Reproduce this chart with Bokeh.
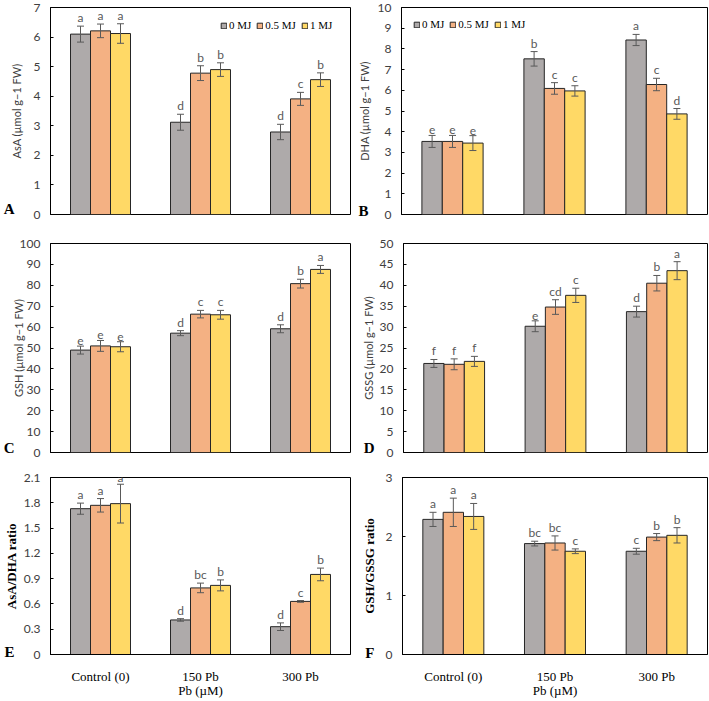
from bokeh.plotting import figure
from bokeh.layouts import column, row
from bokeh.models import (ColumnDataSource, FactorRange, Range1d, FixedTicker, Whisker,
                          TeeHead, Legend, LegendItem, NumeralTickFormatter, LinearAxis,
                          CustomJSTickFormatter)
from bokeh.transform import dodge
from bokeh.embed import file_html
from bokeh.resources import INLINE
from bokeh.core.properties import value

groups = ["Control (0)", "150 Pb", "300 Pb"]
series = ["0 MJ", "0.5 MJ", "1 MJ"]
colors = ["#AEAAAA", "#F4B183", "#FFD966"]
offsets = [-0.2, 0.0, 0.2]

# rows = series (0 MJ, 0.5 MJ, 1 MJ); columns = groups
asa_mean = [[6.10, 3.12, 2.79], [6.21, 4.78, 3.91], [6.12, 4.90, 4.56]]
asa_err = [[0.27, 0.27, 0.26], [0.23, 0.25, 0.22], [0.33, 0.23, 0.23]]
asa_let = [["a", "d", "d"], ["a", "b", "c"], ["a", "b", "b"]]

dha_mean = [[3.53, 7.52, 8.43], [3.53, 6.09, 6.28], [3.45, 5.97, 4.86]]
dha_err = [[0.29, 0.35, 0.27], [0.29, 0.28, 0.30], [0.36, 0.25, 0.26]]
dha_let = [["e", "b", "a"], ["e", "c", "c"], ["e", "c", "d"]]

gsh_mean = [[49.0, 57.1, 59.2], [51.0, 66.2, 80.8], [50.6, 65.9, 87.6]]
gsh_err = [[1.9, 1.2, 1.9], [2.6, 1.8, 2.1], [2.4, 2.1, 1.9]]
gsh_let = [["e", "d", "d"], ["e", "c", "b"], ["e", "c", "a"]]

gssg_mean = [[21.3, 30.2, 33.7], [21.1, 34.8, 40.5], [21.8, 37.6, 43.5]]
gssg_err = [[0.95, 1.3, 1.3], [1.3, 1.75, 1.85], [1.2, 1.7, 2.15]]
gssg_let = [["f", "e", "d"], ["f", "cd", "b"], ["f", "c", "a"]]

ratio1_mean = [[1.73, 0.41, 0.33], [1.77, 0.79, 0.63], [1.79, 0.82, 0.95]]
ratio1_err = [[0.066, 0.015, 0.045], [0.08, 0.057, 0.01], [0.23, 0.065, 0.075]]
ratio1_let = [["a", "d", "d"], ["a", "bc", "c"], ["a", "b", "b"]]

ratio2_mean = [[2.29, 1.88, 1.75], [2.41, 1.89, 1.99], [2.34, 1.75, 2.02]]
ratio2_err = [[0.12, 0.04, 0.05], [0.24, 0.12, 0.06], [0.22, 0.04, 0.13]]
ratio2_let = [["a", "bc", "c"], ["a", "bc", "b"], ["a", "c", "b"]]

ticks_asa = [0, 1, 2, 3, 4, 5, 6, 7]
ticks_dha = [0, 1, 2, 3, 4, 5, 6, 7, 8, 9, 10]
ticks_gsh = [0, 10, 20, 30, 40, 50, 60, 70, 80, 90, 100]
ticks_gssg = [0, 5, 10, 15, 20, 25, 30, 35, 40, 45, 50]
ticks_r1 = [0, 0.3, 0.6, 0.9, 1.2, 1.5, 1.8, 2.1]
ticks_r2 = [0, 1, 2, 3]

SANS = "Lato"
SERIF = "Liberation Serif"
GREY_TXT = "#404040"


def add_letter(p, letter, ymax, frame_h, up_px, standoff):
    # panel letter drawn as the single label of an extra, line-less axis on the left
    t = ymax * up_px / frame_h
    ax = LinearAxis(ticker=FixedTicker(ticks=[t]),
                    formatter=CustomJSTickFormatter(code="return '%s'" % letter))
    ax.axis_line_color = None
    ax.major_tick_line_color = None
    ax.minor_tick_line_color = None
    ax.major_tick_in = 0
    ax.major_tick_out = 0
    ax.minor_tick_in = 0
    ax.minor_tick_out = 0
    ax.major_label_standoff = standoff
    ax.major_label_text_font = SERIF
    ax.major_label_text_font_style = "bold"
    ax.major_label_text_font_size = "15px"
    ax.major_label_text_color = "#000000"
    p.add_layout(ax, "left")


def make_panel(mean, err, lets, ylabel, yticks, letter, w, h, mbl, mbr, mbt, mbb,
               lab_standoff, serif_label=False, show_x=False, legend_loc=None,
               letter_up=4, letter_standoff=-8, fmt=None):
    ymax = yticks[-1]
    p = figure(x_range=FactorRange(*groups), y_range=Range1d(0, ymax),
               width=w, height=h, output_backend="svg", toolbar_location=None,
               title=None, min_border_left=mbl, min_border_right=mbr,
               min_border_top=mbt, min_border_bottom=mbb)
    p.xgrid.grid_line_color = None
    p.ygrid.grid_line_color = None
    p.outline_line_color = "#000000"
    p.outline_line_width = 1
    p.background_fill_color = "white"
    p.border_fill_color = "white"

    rends = []
    for i, s in enumerate(series):
        upper = [m + e for m, e in zip(mean[i], err[i])]
        lower = [m - e for m, e in zip(mean[i], err[i])]
        lab_y = [min(u, ymax * 0.95) for u in upper]
        src = ColumnDataSource(dict(g=groups, top=mean[i], upper=upper, lower=lower,
                                    lab=lets[i], lab_y=lab_y))
        r = p.vbar(x=dodge("g", offsets[i], range=p.x_range), top="top", width=0.2, source=src,
                   fill_color=colors[i], line_color="#262626", line_width=1)
        rends.append(r)
        wh = Whisker(source=src, base=dodge("g", offsets[i], range=p.x_range),
                     upper="upper", lower="lower", line_color="#595959", line_width=1,
                     level="overlay",
                     upper_head=TeeHead(size=7, line_color="#595959", line_width=1),
                     lower_head=TeeHead(size=7, line_color="#595959", line_width=1))
        p.add_layout(wh)
        p.text(x=dodge("g", offsets[i], range=p.x_range), y="lab_y", text="lab", source=src,
               text_align="center", text_baseline="bottom", y_offset=-1,
               text_font=value(SANS), text_font_size="12px", text_color="#595959")

    yax = p.yaxis[0]
    yax.ticker = FixedTicker(ticks=yticks)
    if fmt is not None:
        yax.formatter = fmt
    yax.major_tick_in = 3
    yax.major_tick_out = 0
    yax.minor_tick_line_color = None
    yax.minor_tick_in = 0
    yax.minor_tick_out = 0
    yax.major_tick_line_color = "#000000"
    yax.axis_line_color = "#000000"
    yax.major_label_standoff = 10
    yax.major_label_text_font = SANS
    yax.major_label_text_font_size = "12px"
    yax.major_label_text_color = GREY_TXT
    yax.axis_label = ylabel
    yax.axis_label_standoff = lab_standoff
    if serif_label:
        yax.axis_label_text_font = SERIF
        yax.axis_label_text_font_style = "bold"
        yax.axis_label_text_font_size = "13px"
        yax.axis_label_text_color = "#000000"
    else:
        yax.axis_label_text_font = SANS
        yax.axis_label_text_font_style = "normal"
        yax.axis_label_text_font_size = "11px"
        yax.axis_label_text_color = GREY_TXT

    xax = p.xaxis[0]
    if show_x:
        xax.major_tick_line_color = None
        xax.minor_tick_line_color = None
        xax.major_tick_in = 0
        xax.major_tick_out = 0
        xax.minor_tick_in = 0
        xax.minor_tick_out = 0
        xax.axis_line_color = "#000000"
        xax.major_label_standoff = 14
        xax.major_label_text_font = SERIF
        xax.major_label_text_font_size = "13px"
        xax.major_label_text_color = "#000000"
        xax.axis_label = "Pb (\u00b5M)"
        xax.axis_label_standoff = -4
        xax.axis_label_text_font = SERIF
        xax.axis_label_text_font_style = "normal"
        xax.axis_label_text_font_size = "13px"
        xax.axis_label_text_color = "#000000"
    else:
        xax.visible = False

    if legend_loc is not None:
        items = [LegendItem(label=s, renderers=[r]) for s, r in zip(series, rends)]
        leg = Legend(items=items, location=legend_loc, orientation="horizontal",
                     glyph_width=7, glyph_height=7, label_standoff=2, spacing=5,
                     padding=0, margin=0, border_line_alpha=0, background_fill_alpha=0,
                     label_text_font=SERIF, label_text_font_size="11px",
                     label_text_color="#000000", label_height=12, label_width=10)
        p.add_layout(leg)

    frame_h = h - mbt - mbb
    add_letter(p, letter, ymax, frame_h, letter_up, letter_standoff)
    return p


LW, RW = 354, 355
H1, H2, H3 = 229, 231, 240

pA = make_panel(asa_mean, asa_err, asa_let, "AsA (\u00b5mol g\u22121 FW)", ticks_asa, "A",
                LW, H1, 43, 4, 7, 15, 8, legend_loc=(170, 183),
                letter_up=6, letter_standoff=-8)
pB = make_panel(dha_mean, dha_err, dha_let, "DHA (\u00b5mol g\u22121 FW)", ticks_dha, "B",
                RW, H1, 47, 2, 7, 14, 4, legend_loc=(12, 184),
                letter_up=4, letter_standoff=-14)
pC = make_panel(gsh_mean, gsh_err, gsh_let, "GSH (\u00b5mol g\u22121 FW)", ticks_gsh, "C",
                LW, H2, 43, 4, 13, 8, -8, letter_up=4.5, letter_standoff=-6)
pD = make_panel(gssg_mean, gssg_err, gssg_let, "GSSG (\u00b5mol g\u22121 FW)", ticks_gssg, "D",
                RW, H2, 49, 2, 14, 8, 2, letter_up=4.5, letter_standoff=-16)
pE = make_panel(ratio1_mean, ratio1_err, ratio1_let, "AsA/DHA ratio", ticks_r1, "E",
                LW, H3, 45, 4, 16, 40, 2, serif_label=True, show_x=True,
                letter_up=3, letter_standoff=-14, fmt=NumeralTickFormatter(format="0.[0]"))
pF = make_panel(ratio2_mean, ratio2_err, ratio2_let, "GSH/GSSG ratio", ticks_r2, "F",
                RW, H3, 48, 2, 17, 40, 6, serif_label=True, show_x=True,
                letter_up=2, letter_standoff=-16)

layout = column(row(pA, pB), row(pC, pD), row(pE, pF))
open("out.html", "w").write(file_html(layout, INLINE))
